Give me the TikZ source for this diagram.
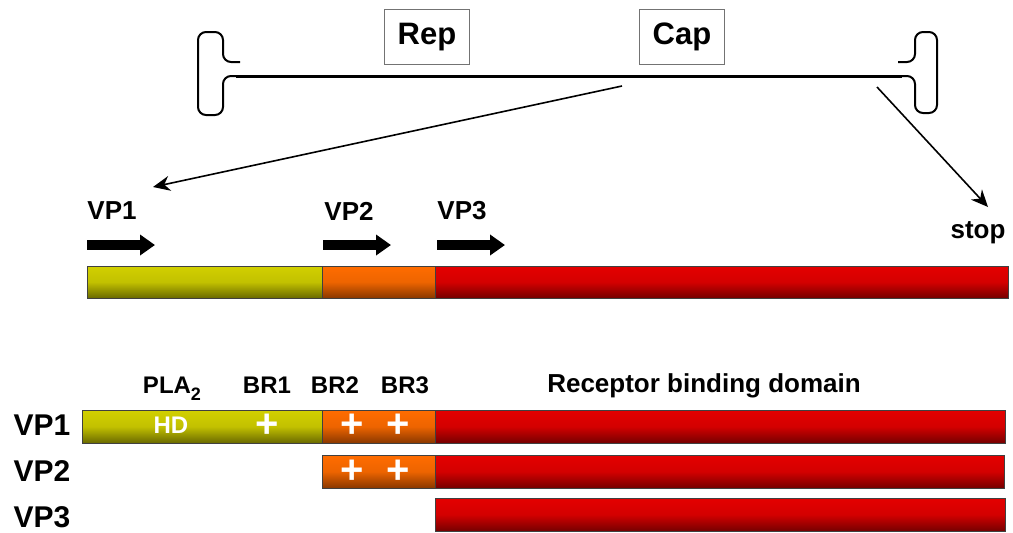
\documentclass[tikz,border=0pt]{standalone}
\usepackage{fontspec}
\setmainfont{Liberation Sans}
\usepackage{tikz}
\usetikzlibrary{arrows.meta,positioning}
\definecolor{hdtop}{HTML}{D2D000}
\definecolor{hdbot}{HTML}{6A6A00}
\definecolor{brtop}{HTML}{FF6C00}
\definecolor{brbot}{HTML}{8A3800}
\definecolor{rbtop}{HTML}{E40000}
\definecolor{rbbot}{HTML}{760000}
\tikzset{itr/.style={draw=black,line width=1pt,rounded corners=4pt},genebox/.style={draw=black!55,line width=.6pt,minimum width=42.5pt,minimum height=27.5pt,font=\bfseries\fontsize{15.5}{17}\selectfont},
 lbl/.style={font=\bfseries\fontsize{13}{15}\selectfont},tag/.style={font=\bfseries\fontsize{12}{14}\selectfont},rowlbl/.style={font=\bfseries\fontsize{15}{17}\selectfont},
 inbar/.style={text=white,font=\bfseries\fontsize{12}{14}\selectfont},plus/.style={text=white,font=\bfseries\fontsize{20}{20}\selectfont,inner sep=0pt},
 pointer/.style={-{Stealth[length=8.5pt,width=7.5pt]},line width=.8pt},startarrow/.style={-{Triangle[length=7.5pt,width=10pt]},line width=5pt},
 hdseg/.style={top color=hdtop,bottom color=hdbot,middle color=hdtop!85!hdbot,draw=black!75,line width=.4pt},brseg/.style={top color=brtop,bottom color=brbot,middle color=brtop!85!brbot,draw=black!75,line width=.4pt},rbseg/.style={top color=rbtop,bottom color=rbbot,middle color=rbtop!85!rbbot,draw=black!75,line width=.4pt}}
\begin{document}
\begin{tikzpicture}[x=.5pt,y=-.5pt]
\useasboundingbox (0,0) rectangle (1013,532);
% genome with the two hairpin ends
\draw[itr] (240,62) -- (223,62) -- (223,32) -- (198,32) -- (198,115) -- (223,115) -- (223,76) -- (240,76);
\draw[itr] (898,62) -- (915,62) -- (915,32) -- (937,32) -- (937,113) -- (915,113) -- (915,76) -- (898,76);
\draw[line width=1.5pt] (236,76) -- (902,76);
\node[genebox] (rep) at (427,37) {Rep}; \node[genebox] (cap) at (682,37) {Cap};
\coordinate (capl) at (622,86); \coordinate (capr) at (877,87);
% cap transcript
\node[lbl] (m1) at (112,211) {VP1}; \node[lbl] (m2) at (349,211) {VP2}; \node[lbl] (m3) at (462,211) {VP3};
\node[lbl,anchor=base] (stop) at (978,238) {stop};
\coordinate (vpstart) at (153,187); \coordinate (stopend) at (988,207);
\draw[pointer] (capl) -- (vpstart); \draw[pointer] (capr) -- (stopend);
\foreach \a in {87,323,437} \draw[startarrow] (\a,245) -- ++(68,0);
\path[hdseg] (87,266) rectangle (322,298); \path[brseg] (322,266) rectangle (435,298); \path[rbseg] (435,266) rectangle (1008,298);
% capsid proteins
\node[tag,anchor=base] (pla) at (172,393) {PLA\raisebox{-3.5pt}{\fontsize{9}{9}\selectfont 2}};
\node[tag,anchor=base] (br1) at (267,393) {BR1}; \node[tag,anchor=base] (br2) at (335,393) {BR2}; \node[tag,anchor=base] (br3) at (405,393) {BR3};
\node[lbl,anchor=base] (rbd) at (704,392) {Receptor binding domain};
\foreach \n/\y in {1/425,2/471,3/517} \node[rowlbl] (vp\n) at (42,\y) {VP\n};
\path[hdseg] (82,410) rectangle (322,443); \path[brseg] (322,410) rectangle (435,443); \path[rbseg] (435,410) rectangle (1005,443);
\path[brseg] (322,455) rectangle (435,488); \path[rbseg] (435,455) rectangle (1004,488);
\path[rbseg] (435,498) rectangle (1005,531);
\node[inbar] (hd) at (171,425) {HD};
\foreach \x/\y [count=\i] in {267/426,352/426,398/426,352/472,398/472} \node[plus] (p\i) at (\x,\y) {+};
\end{tikzpicture}
\end{document}
